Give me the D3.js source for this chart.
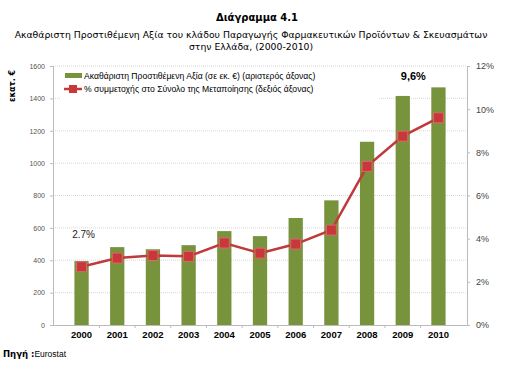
<!DOCTYPE html>
<html>
<head>
<meta charset="utf-8">
<script src="https://cdn.jsdelivr.net/npm/d3@7/dist/d3.min.js"></script>
<style>
body { margin: 0; background: #fff; }
text { font-family: "Liberation Sans", Arial, sans-serif; }
</style>
</head>
<body>
<script>
var years = ["2000","2001","2002","2003","2004","2005","2006","2007","2008","2009","2010"];
var gva = [395, 481, 468, 493, 580, 549, 661, 770, 1132, 1415, 1468];
var share = [2.7, 3.1, 3.22, 3.18, 3.8, 3.33, 3.75, 4.4, 7.35, 8.75, 9.6];
var leftTicks = [0, 200, 400, 600, 800, 1000, 1200, 1400, 1600];
var rightTicks = [0, 2, 4, 6, 8, 10, 12];

var W = 515, H = 365;
var m = {left: 53, right: 48, top: 66, bottom: 40};

var svg = d3.select("body").append("svg")
    .attr("width", W)
    .attr("height", H);

var x = d3.scaleBand().domain(years).range([m.left, W - m.right]).padding(0.6);
var yL = d3.scaleLinear().domain([0, 1600]).range([H - m.bottom, m.top]);
var yR = d3.scaleLinear().domain([0, 12]).range([H - m.bottom, m.top]);

// titles
svg.append("text").attr("x", 257).attr("y", 21).attr("text-anchor", "middle")
    .style("font-family", "DejaVu Sans").style("font-weight", "bold").style("font-size", "10px")
    .text("Διάγραμμα 4.1");
svg.append("text").attr("x", 251).attr("y", 38).attr("text-anchor", "middle")
    .style("font-family", "DejaVu Sans").style("font-size", "9.3px")
    .text("Ακαθάριστη Προστιθέμενη Αξία του κλάδου Παραγωγής Φαρμακευτικών Προϊόντων & Σκευασμάτων");
svg.append("text").attr("x", 251).attr("y", 50).attr("text-anchor", "middle")
    .style("font-family", "DejaVu Sans").style("font-size", "9.3px")
    .text("στην Ελλάδα, (2000-2010)");

// gridlines
svg.append("g").selectAll("line").data(leftTicks.slice(1)).enter().append("line")
    .attr("x1", m.left).attr("x2", W - m.right)
    .attr("y1", function(d) { return yL(d); }).attr("y2", function(d) { return yL(d); })
    .style("stroke", "#d8d8d8").style("stroke-dasharray", "1,1");

// left axis
var axL = svg.append("g").attr("transform", "translate(" + m.left + ",0)")
    .call(d3.axisLeft(yL).tickValues(leftTicks).tickSize(3).tickPadding(5).tickFormat(d3.format("d")));
axL.selectAll("text").style("font-size", "7px").style("fill", "#555");

// right axis
var axR = svg.append("g").attr("transform", "translate(" + (W - m.right) + ",0)")
    .call(d3.axisRight(yR).tickValues(rightTicks).tickSize(3).tickPadding(6)
        .tickFormat(function(d) { return d + "%"; }));
axR.selectAll("text").style("font-size", "9px").style("fill", "#444");

// x axis
var axX = svg.append("g").attr("transform", "translate(0," + (H - m.bottom) + ")")
    .call(d3.axisBottom(x).tickSize(0).tickPadding(6));
axX.selectAll("text").style("font-size", "9.5px").style("font-weight", "bold").style("fill", "#000");
[axL, axR, axX].forEach(function(a) {
    a.selectAll(".domain, line").style("stroke", "#bbb");
});
// category separators on x axis
svg.append("g").selectAll("line").data(years.slice(1)).enter().append("line")
    .attr("x1", function(d) { return x(d) - x.step() * x.paddingInner() / 2; })
    .attr("x2", function(d) { return x(d) - x.step() * x.paddingInner() / 2; })
    .attr("y1", H - m.bottom).attr("y2", H - m.bottom + 3)
    .style("stroke", "#bbb");

// bars
svg.append("g").selectAll("rect").data(gva).enter().append("rect")
    .attr("x", function(d, i) { return x(years[i]); })
    .attr("y", function(d) { return yL(d); })
    .attr("width", x.bandwidth())
    .attr("height", function(d) { return yL(0) - yL(d); })
    .style("fill", "#77933c");

// line
var line = d3.line()
    .x(function(d, i) { return x(years[i]) + x.bandwidth() / 2; })
    .y(function(d) { return yR(d); });
svg.append("path").datum(share).attr("d", line)
    .style("fill", "none").style("stroke", "#c0393b").style("stroke-width", 2.5);
svg.append("g").selectAll("rect").data(share).enter().append("rect")
    .attr("x", function(d, i) { return x(years[i]) + x.bandwidth() / 2 - 5; })
    .attr("y", function(d) { return yR(d) - 5; })
    .attr("width", 10).attr("height", 10)
    .style("fill", "#c8383a").style("stroke", "#d96a6a").style("stroke-width", 1);

// value labels
svg.append("text").attr("x", x(years[0]) + x.bandwidth() / 2 + 2).attr("y", 238)
    .attr("text-anchor", "middle").style("font-size", "10px").style("fill", "#222")
    .text(share[0] + "%");
svg.append("text").attr("x", x(years[10]) - 18).attr("y", 80)
    .attr("text-anchor", "middle").style("font-size", "11px").style("font-weight", "bold")
    .text(String(share[10]).replace(".", ",") + "%");

// legend
var lg = svg.append("g");
lg.append("rect").attr("x", 60).attr("y", 68).attr("width", 318).attr("height", 34)
    .style("fill", "#fff");
lg.append("rect").attr("x", 65).attr("y", 73).attr("width", 17).attr("height", 5)
    .style("fill", "#77933c");
lg.append("text").attr("x", 84).attr("y", 79).style("font-size", "8.6px")
    .text("Ακαθάριστη  Προστιθέμενη  Αξία  (σε εκ. €) (αριστερός  άξονας)");
lg.append("line").attr("x1", 64).attr("x2", 82).attr("y1", 89).attr("y2", 89)
    .style("stroke", "#c0393b").style("stroke-width", 2.5);
lg.append("rect").attr("x", 69).attr("y", 85).attr("width", 8).attr("height", 8)
    .style("fill", "#c8383a");
lg.append("text").attr("x", 84).attr("y", 92).style("font-size", "8.6px")
    .text("% συμμετοχής  στο Σύνολο της Μεταποίησης  (δεξιός άξονας)");

// y axis title
svg.append("text").attr("transform", "translate(15,86) rotate(-90)")
    .attr("text-anchor", "middle").style("font-family", "DejaVu Sans")
    .style("font-size", "8px").style("font-weight", "bold")
    .text("εκατ. €");

// source
var src = svg.append("text").attr("x", 3).attr("y", 357).style("font-size", "8.5px");
src.append("tspan").style("font-family", "DejaVu Sans").style("font-weight", "bold").text("Πηγή :");
src.append("tspan").text("Eurostat");
</script>
</body>
</html>
